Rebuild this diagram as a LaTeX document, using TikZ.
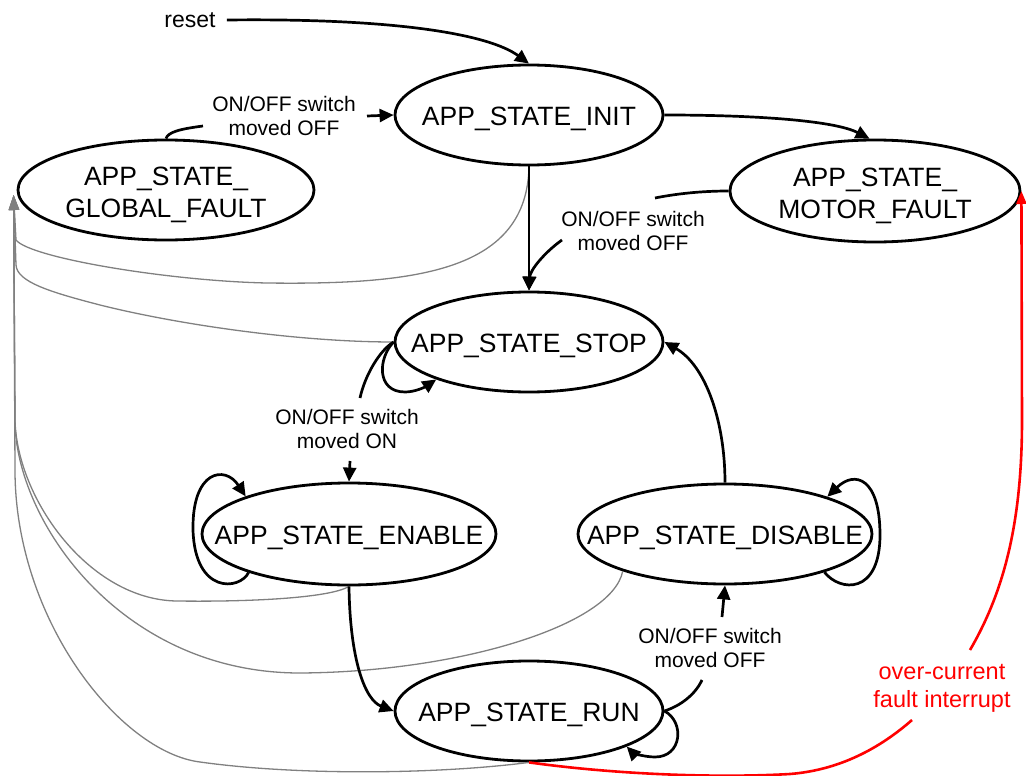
\documentclass[tikz,border=0pt]{standalone}
\usepackage{fontspec}
\setmainfont{Liberation Sans}
\usetikzlibrary{arrows.meta,shapes.geometric}
\definecolor{gcol}{RGB}{128,128,128}
\newcommand\stone[1]{\makebox[0pt]{\smash{\raisebox{-10pt}{#1}}}}
\newcommand\sttwo[2]{\makebox[0pt]{\smash{\raisebox{5pt}{\begin{tabular}[t]{@{}c@{}}#1\\#2\end{tabular}}}}}
\begin{document}
\begin{tikzpicture}[x=1pt,y=-1pt,
  state/.style={draw, ellipse, line width=2.8pt, inner sep=0pt, font=\fontsize{26.5}{32}\selectfont},
  lbl/.style={align=center, inner sep=0pt, font=\fontsize{21}{24}\selectfont},
  rlbl/.style={align=center, inner sep=0pt, text=red, font=\fontsize{23.5}{28}\selectfont},
  arr/.style={line width=2.7pt, -{Triangle[length=14pt,width=13pt]}},
  stub/.style={line width=2.7pt},
  gline/.style={line width=1.3pt, draw=gcol, -{Triangle[length=15pt,width=10pt]}},
  rline/.style={line width=2.6pt, draw=red},
  rarr/.style={line width=2.6pt, draw=red, -{Triangle[length=13pt,width=10pt]}}]
\useasboundingbox (0,0) rectangle (1026,776);

% states
\node[state, minimum width=268pt, minimum height=100pt] (init) at (529,115) {\stone{APP\_STATE\_INIT}};
\node[state, minimum width=296pt, minimum height=100pt] (gf) at (166,190) {\sttwo{APP\_STATE\_}{GLOBAL\_FAULT}};
\node[state, minimum width=290pt, minimum height=102pt] (mf) at (875,191) {\sttwo{APP\_STATE\_}{MOTOR\_FAULT}};
\node[state, minimum width=268pt, minimum height=100pt] (stop) at (529,342) {\stone{APP\_STATE\_STOP}};
\node[state, minimum width=294pt, minimum height=102pt] (enable) at (349,534) {\stone{APP\_STATE\_ENABLE}};
\node[state, minimum width=294pt, minimum height=100pt] (disable) at (725,534) {\stone{APP\_STATE\_DISABLE}};
\node[state, minimum width=268pt, minimum height=100pt] (run) at (529,711) {\stone{APP\_STATE\_RUN}};

% labels
\node[inner sep=0pt, font=\fontsize{23}{28}\selectfont] (reset) at (190,20) {reset};
\node[lbl] (lab1) at (284,116) {ON/OFF switch\\moved OFF};
\node[lbl] (lab2) at (633,231) {ON/OFF switch\\moved OFF};
\node[lbl] (lab3) at (347,429) {ON/OFF switch\\moved ON};
\node[lbl] (lab4) at (710,648) {ON/OFF switch\\moved OFF};
\node[rlbl] (lab5) at (942,688) {over-current\\fault interrupt};

% label break points
\coordinate (s1a) at (203,126);
\coordinate (s1b) at (367,116);
\coordinate (s2a) at (655,198);
\coordinate (s2b) at (562,240);
\coordinate (s3a) at (360,398);
\coordinate (s3b) at (350,461);
\coordinate (s4a) at (702,680);
\coordinate (s4b) at (722,617);
\coordinate (s5a) at (912,720);
\coordinate (s5b) at (970,650);
\coordinate (gtip) at ([xshift=-3pt,yshift=-5pt]gf.west);

% gray transitions to GLOBAL_FAULT
\draw[gline] (init.south) .. controls (527,270) and (420,285) .. (267,283)
  .. controls (170,281) and (30,258) .. (16,240) -- (gtip);
\draw[gline] (stop.west) .. controls (300,342) and (180,325) .. (100,305)
  .. controls (50,292) and (17,282) .. (16,265) -- (gtip);
\draw[gline] (enable.south) .. controls (330,598) and (250,602) .. (177,601)
  .. controls (90,600) and (17,500) .. (15,420) -- (gtip);
\draw[gline] (disable.200) .. controls (612,625) and (460,672) .. (300,673)
  .. controls (120,673) and (15,520) .. (15,420) -- (gtip);
\draw[gline] (run.south) .. controls (440,774) and (300,776) .. (200,762)
  .. controls (120,752) and (15,620) .. (15,470) -- (gtip);

% black transitions
\draw[arr] ([xshift=11pt]reset.east) .. controls (400,18) and (490,35) .. (init.north);
\draw[stub] (gf.north) .. controls (168,132) and (180,129) .. (s1a);
\draw[arr] (s1b) -- (init.west);
\draw[arr] (init.east) .. controls (760,115) and (835,121) .. (mf.96);
\draw[arr] (init.south) -- (stop.north);
\draw[stub] (mf.west) .. controls (700,191) and (675,194) .. (s2a);
\draw[arr] (s2b) .. controls (545,252) and (530,270) .. (stop.north);
\draw[arr] (stop.west) .. controls (378,358) and (376,392) .. (405,392)
  .. controls (415,392) and (425,387) .. (stop.202);
\draw[stub] (stop.west) .. controls (380,350) and (365,375) .. (s3a);
\draw[arr] (s3b) -- (enable.north);
\draw[arr] (enable.201) .. controls (240,590) and (195,595) .. (193,530)
  .. controls (192,470) and (225,465) .. (enable.160);
\draw[arr] (enable.south) .. controls (350,660) and (365,700) .. (run.west);
\draw[arr] (disable.north) .. controls (725,420) and (705,365) .. (stop.east);
\draw[arr] (disable.339) .. controls (840,592) and (880,595) .. (880,535)
  .. controls (880,478) and (855,470) .. (disable.20);
\draw[stub] (run.east) .. controls (680,706) and (695,695) .. (s4a);
\draw[arr] (s4b) -- (disable.south);
\draw[arr] (run.east) .. controls (685,722) and (682,757) .. (655,757)
  .. controls (643,757) and (632,752) .. (run.340);

% red over-current transition
\draw[rline] (run.south) .. controls (620,775) and (720,778) .. (790,774)
  .. controls (840,770) and (880,748) .. (s5a);
\draw[rarr] (s5b) .. controls (1005,590) and (1022,520) .. (1022,420) -- (mf.east);
\end{tikzpicture}
\end{document}
